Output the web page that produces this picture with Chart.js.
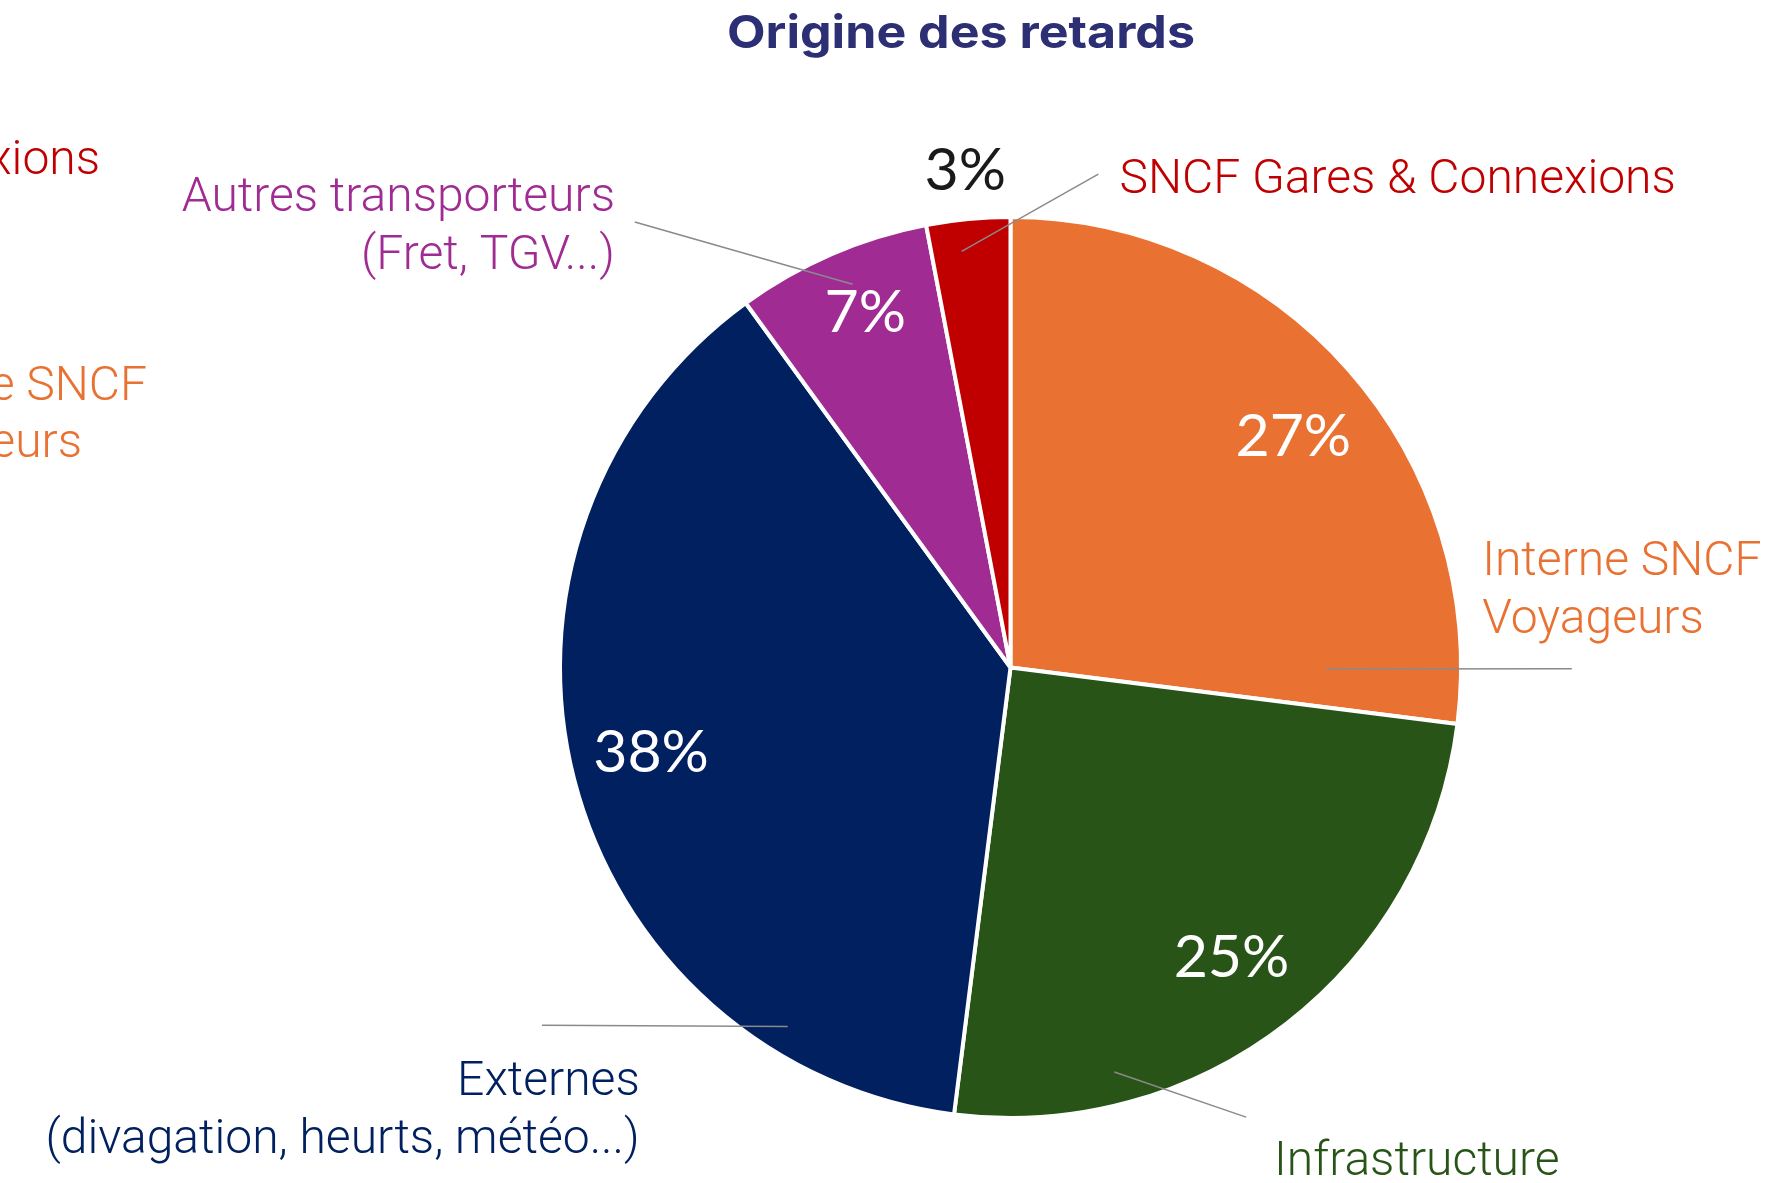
<!DOCTYPE html>
<html lang="fr">
<head>
  <meta charset="UTF-8" />
  <title>Origine des retards</title>
  <script src="https://cdn.jsdelivr.net/npm/chart.js"></script>
  <style>
    html, body { margin: 0; padding: 0; background: #fff; }
    .chart-container { position: relative; width: 1768px; height: 1183px; }
  </style>
</head>
<body>
  <div class="chart-container">
    <canvas id="pieChart"></canvas>
  </div>

  <script>
    // data, clockwise from 12 o'clock
    const categories = ['Interne SNCF Voyageurs', 'Infrastructure', 'Externes (divagation, heurts, météo...)', 'Autres transporteurs (Fret, TGV...)', 'SNCF Gares & Connexions'];
    const labelLines = [['Interne SNCF', 'Voyageurs'], ['Infrastructure'], ['Externes', '(divagation, heurts, météo...)'], ['Autres transporteurs', '(Fret, TGV...)'], ['SNCF Gares & Connexions']];
    const shares = [27, 25, 38, 7, 3];
    const colors = ['#e97132', '#285418', '#002060', '#a02b93', '#c00000'];
    const title = 'Origine des retards';

    // callout placement, in units of the pie radius, relative to the pie centre
    // pct: [fraction along the slice, radius]
    const callouts = [
      { pct: [0.52, 0.813], pctColor: '#fff', anchorFrac: 0.9285, anchorR: 0.70, end: [1.246, 0.003], text: [1.047, -0.206], align: 'left' },
      { pct: [0.504, 0.807], pctColor: '#fff', anchorFrac: 0.76, anchorR: 0.927, end: [0.523, 0.998], text: [0.585, 1.126], align: 'left' },
      { pct: [0.51, 0.819], pctColor: '#fff', anchorFrac: 0.18, anchorR: 0.938, end: [-1.040, 0.794], text: [-0.823, 0.949], align: 'right' },
      { pct: [0.55, 0.855], pctColor: '#fff', anchorFrac: 0.54, anchorR: 0.92, end: [-0.834, -0.989], text: [-0.878, -1.013], align: 'right' },
      { pct: [0.52, 1.112], pctColor: '#1a1a1a', anchorFrac: 0.38, anchorR: 0.93, end: [0.195, -1.095], text: [0.242, -1.053], align: 'left' }
    ];
    const lineGap = 58;
    const labelFont = '300 48px Roboto';

    const calloutPlugin = {
      id: 'callouts',
      afterDraw(chart) {
        const ctx = chart.ctx;
        const arcs = chart.getDatasetMeta(0).data;
        ctx.save();

        // title: wide face in the original, so stretch it to the same width
        ctx.font = 'bold 45px Inter';
        ctx.fillStyle = '#2d2f74';
        ctx.textAlign = 'left';
        ctx.textBaseline = 'alphabetic';
        const tw = ctx.measureText(title).width;
        ctx.save();
        ctx.translate(727, 48);
        ctx.scale(468 / tw, 1);
        ctx.fillText(title, 0, 0);
        ctx.restore();

        arcs.forEach((arc, i) => {
          const p = arc.getProps(['x', 'y', 'startAngle', 'endAngle', 'outerRadius'], true);
          const r = p.outerRadius;
          const c = callouts[i];
          const span = p.endAngle - p.startAngle;

          // percentage
          const m = p.startAngle + span * c.pct[0];
          ctx.font = '400 59px Lato';
          ctx.fillStyle = c.pctColor;
          ctx.textAlign = 'center';
          ctx.fillText(shares[i] + '%', p.x + Math.cos(m) * r * c.pct[1], p.y + Math.sin(m) * r * c.pct[1] + 21);

          // leader line
          const a = p.startAngle + span * c.anchorFrac;
          ctx.strokeStyle = '#8a8a8a';
          ctx.lineWidth = 1.5;
          ctx.beginPath();
          ctx.moveTo(p.x + Math.cos(a) * r * c.anchorR, p.y + Math.sin(a) * r * c.anchorR);
          ctx.lineTo(p.x + c.end[0] * r, p.y + c.end[1] * r);
          ctx.stroke();

          // category label
          ctx.font = labelFont;
          ctx.fillStyle = colors[i];
          ctx.textAlign = c.align;
          labelLines[i].forEach((line, k) => {
            ctx.fillText(line, p.x + c.text[0] * r, p.y + c.text[1] * r + k * lineGap);
          });
        });

        // cropped duplicate labels at the left edge of the source picture
        ctx.font = labelFont;
        ctx.textAlign = 'right';
        ctx.fillStyle = colors[4];
        ctx.fillText(labelLines[4][0], 100, 174);
        ctx.fillStyle = colors[0];
        ctx.fillText(labelLines[0][0], 147, 400);
        ctx.fillText(labelLines[0][1], 82, 457);

        ctx.restore();
      }
    };

    const ctx = document.getElementById('pieChart').getContext('2d');
    const pieChart = new Chart(ctx, {
      type: 'pie',
      data: {
        labels: categories,
        datasets: [{
          data: shares,
          backgroundColor: colors,
          borderColor: '#fff',
          borderWidth: 4
        }]
      },
      options: {
        responsive: true,
        maintainAspectRatio: false,
        animation: false,
        layout: { padding: { left: 558, top: 215, right: 305, bottom: 63 } },
        plugins: {
          legend: { display: false },
          tooltip: { enabled: false }
        }
      },
      plugins: [calloutPlugin]
    });
  </script>
</body>
</html>
